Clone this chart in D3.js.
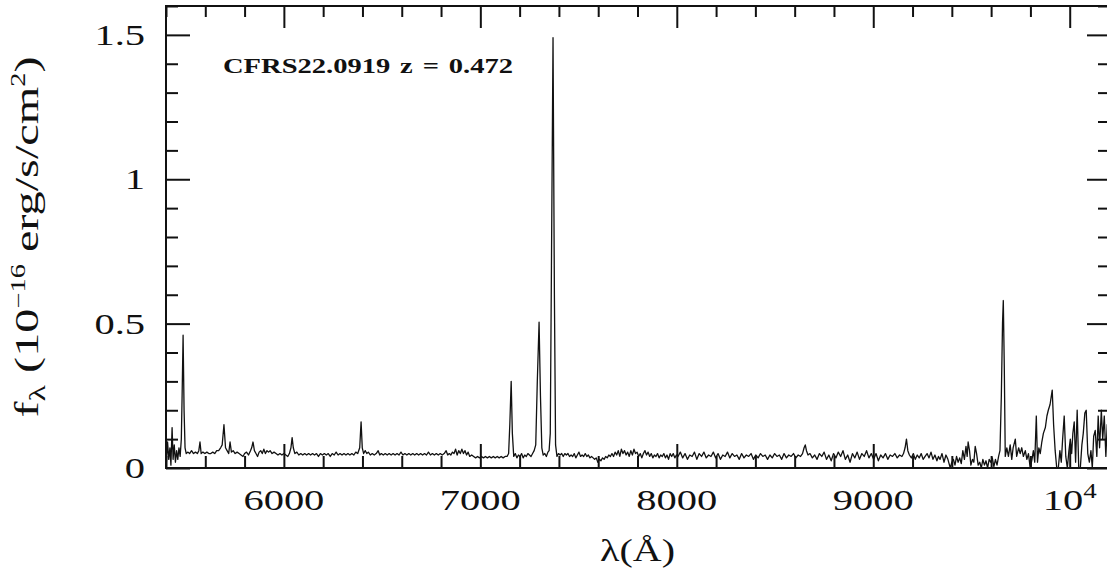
<!DOCTYPE html>
<html>
<head>
<meta charset="utf-8">
<script src="https://cdnjs.cloudflare.com/ajax/libs/d3/7.8.5/d3.min.js"></script>
<style>
html,body{margin:0;padding:0;background:#fff;}
svg text{font-family:"Liberation Serif","Times New Roman",serif;fill:#111;}
</style>
</head>
<body>
<svg id="chart" width="1107" height="571"></svg>
<script>
// ---- data ----
const wavelength = [
5402,5408,5414,5420,5425,5431,5436,5442,5448,5454,5460,5466,5472,5478,5482,5487,5492,5497,5503,5512,
5520,5530,5540,5550,5560,5567,5573,5579,5588,5598,5608,5618,5628,5638,5648,5658,5668,5678,5686,5695,
5703,5711,5719,5726,5733,5742,5752,5762,5772,5782,5792,5800,5810,5820,5830,5836,5843,5850,5858,5866,
5874,5882,5890,5898,5906,5914,5922,5930,5940,5950,5960,5970,5980,5990,6000,6010,6020,6028,6036,6042,
6048,6056,6066,6076,6086,6096,6106,6116,6126,6136,6146,6156,6166,6176,6186,6196,6206,6216,6226,6236,
6246,6256,6266,6276,6286,6296,6306,6316,6326,6336,6346,6356,6366,6376,6386,6393,6399,6406,6414,6422,
6430,6440,6450,6460,6470,6480,6488,6496,6506,6516,6526,6536,6546,6556,6566,6576,6586,6596,6606,6616,
6626,6636,6646,6656,6666,6676,6686,6696,6706,6716,6726,6736,6746,6756,6766,6776,6786,6796,6806,6816,
6826,6834,6842,6850,6858,6866,6874,6882,6890,6898,6906,6914,6922,6930,6938,6946,6956,6966,6976,6986,
6996,7006,7016,7026,7036,7046,7056,7066,7076,7086,7096,7106,7116,7126,7136,7144,7150,7157,7163,7170,
7178,7186,7194,7202,7210,7218,7226,7234,7242,7250,7258,7266,7274,7282,7290,7299,7306,7313,7320,7328,
7336,7344,7350,7356,7362,7370,7377,7383,7390,7398,7406,7414,7422,7430,7438,7446,7454,7462,7470,7478,
7486,7494,7502,7510,7518,7526,7534,7542,7550,7558,7566,7574,7582,7590,7598,7606,7614,7622,7630,7638,
7646,7654,7662,7670,7678,7686,7694,7702,7710,7718,7726,7734,7742,7750,7758,7766,7774,7782,7790,7798,
7806,7814,7822,7830,7838,7846,7854,7862,7870,7878,7886,7894,7902,7910,7918,7926,7934,7942,7950,7958,
7966,7974,7982,7990,7998,8006,8018,8030,8042,8054,8066,8078,8090,8102,8114,8126,8138,8150,8162,8174,
8186,8198,8210,8222,8234,8246,8258,8270,8282,8294,8306,8318,8330,8342,8354,8366,8378,8390,8402,8414,
8426,8438,8450,8462,8474,8486,8498,8510,8522,8534,8546,8558,8570,8582,8594,8606,8618,8630,8640,8648,
8654,8660,8668,8678,8690,8702,8714,8726,8738,8750,8762,8774,8786,8798,8810,8822,8834,8846,8858,8870,
8882,8894,8906,8918,8930,8942,8954,8966,8978,8990,9002,9014,9026,9038,9050,9062,9074,9086,9098,9110,
9122,9134,9146,9154,9162,9169,9176,9184,9194,9204,9214,9224,9234,9244,9254,9264,9274,9284,9294,9304,
9314,9324,9332,9340,9350,9360,9370,9380,9392,9400,9408,9416,9424,9432,9440,9448,9456,9464,9472,9478,
9483,9490,9497,9505,9512,9519,9526,9534,9542,9550,9558,9566,9574,9582,9590,9598,9606,9614,9622,9630,
9638,9645,9652,9658,9662,9667,9672,9680,9688,9697,9705,9712,9723,9730,9740,9748,9756,9764,9774,9782,
9790,9799,9808,9815,9822,9830,9836,9843,9850,9858,9866,9876,9884,9891,9900,9911,9918,9926,9934,9942,
9950,9957,9964,9972,9980,9988,9996,10003,10010,10016,10023,10030,10038,10046,10054,10062,10069,10077,10084,10092,
10100,10108,10115,10122,10130,10138,10145,10152,10161,10168,10176,10184,10191,10200
];
const flux = [
.02,.09,.03,.07,.01,.14,.03,.08,.02,.06,.03,.07,.04,.10,.25,.46,.20,.07,.05,.055,
.05,.06,.05,.055,.05,.06,.09,.05,.055,.05,.055,.05,.05,.055,.05,.06,.06,.07,.08,.15,
.07,.06,.05,.09,.055,.06,.05,.055,.05,.045,.04,.05,.055,.045,.06,.07,.09,.06,.05,.04,
.055,.06,.05,.065,.05,.06,.055,.06,.05,.055,.05,.045,.05,.045,.05,.045,.04,.05,.07,.105,
.07,.05,.055,.045,.05,.045,.05,.045,.05,.045,.05,.045,.05,.04,.05,.045,.05,.045,.05,.04,
.05,.045,.055,.045,.05,.045,.05,.045,.05,.045,.05,.045,.055,.05,.07,.16,.07,.05,.06,.05,
.055,.045,.05,.045,.05,.06,.045,.05,.045,.05,.045,.05,.045,.05,.045,.05,.045,.055,.045,.05,
.045,.05,.045,.05,.045,.05,.045,.05,.045,.05,.045,.055,.045,.05,.045,.05,.045,.05,.045,.05,
.06,.045,.05,.045,.055,.05,.065,.045,.06,.05,.065,.05,.06,.045,.055,.04,.045,.04,.035,.04,
.035,.04,.035,.04,.035,.04,.035,.04,.035,.04,.035,.04,.035,.04,.04,.05,.15,.30,.12,.04,
.05,.035,.045,.04,.05,.035,.045,.04,.05,.045,.04,.05,.06,.08,.30,.505,.25,.07,.045,.05,
.04,.055,.06,.12,.70,1.49,.60,.08,.04,.05,.045,.05,.04,.05,.045,.05,.04,.045,.04,.05,
.035,.045,.055,.04,.045,.04,.05,.04,.045,.035,.04,.035,.03,.035,.02,.03,.025,.035,.03,.04,
.035,.045,.04,.05,.04,.055,.045,.06,.04,.065,.05,.06,.045,.055,.04,.06,.045,.065,.05,.055,
.04,.05,.035,.05,.06,.045,.055,.04,.05,.035,.045,.04,.05,.035,.045,.04,.05,.035,.045,.03,
.05,.04,.05,.035,.045,.04,.055,.035,.05,.03,.045,.04,.055,.03,.05,.04,.055,.035,.045,.04,
.055,.035,.05,.03,.045,.04,.055,.035,.05,.04,.045,.03,.05,.035,.045,.04,.05,.03,.045,.035,
.05,.04,.045,.03,.045,.035,.05,.04,.045,.03,.05,.035,.045,.04,.05,.035,.045,.04,.05,.07,
.08,.06,.045,.05,.035,.045,.03,.05,.04,.055,.03,.045,.025,.05,.035,.055,.04,.06,.03,.045,
.02,.05,.035,.055,.03,.05,.04,.06,.035,.05,.03,.05,.025,.045,.035,.05,.03,.045,.04,.05,
.035,.045,.04,.05,.07,.10,.06,.045,.035,.05,.03,.045,.035,.05,.03,.04,.05,.035,.055,.03,
.045,.025,.04,.03,.05,.02,.045,.03,.0,.02,.03,.01,.04,.02,.035,.015,.06,.03,.075,.04,
.09,.06,.01,.03,.02,.075,.05,.01,.02,.0,.03,.01,.025,.0,.03,.02,.035,.005,.03,.01,
.04,.06,.25,.50,.58,.35,.04,.07,.04,.08,.03,.07,.10,.04,.07,.05,.07,.04,.06,.03,
.05,.0,.03,.06,.02,.18,.02,.07,.05,.09,.12,.14,.18,.20,.22,.27,.15,.06,.0,.0,
.06,.02,.10,.18,.04,.0,.06,.10,.05,.12,.16,.02,.20,.0,.0,.08,.12,.19,.20,.05,
.02,.06,.0,.11,.13,.04,.18,.07,.20,.10,.18,.04,.15,.10
];
const xMajorTicks = [6000, 7000, 8000, 9000, 10000];
const xTickLabels = ["6000", "7000", "8000", "9000", "10"];
const yMajorTicks = [0, 0.5, 1, 1.5];
const yTickLabels = ["0", "0.5", "1", "1.5"];
const annotation = "CFRS22.0919 z = 0.472";

// ---- layout ----
const svg = d3.select("#chart");
const L = 166, R = 1109, T = 6, B = 468;
const x = d3.scaleLinear().domain([5400, 10200]).range([L, R]);
const y = d3.scaleLinear().domain([0, 1.6]).range([B, T]);
const xMinor = d3.range(5400, 10201, 200).filter(v => v % 1000 !== 0);
const yMinor = d3.range(0, 17).map(i => i / 10).filter(v => Math.abs(v * 2 - Math.round(v * 2)) > 1e-6);

svg.append("defs").append("clipPath").attr("id", "clip")
  .append("rect").attr("x", L).attr("y", T).attr("width", R - L).attr("height", B - T);

// spectrum
const pts = wavelength.map((w, i) => [w, flux[i]]);
svg.append("path")
  .datum(pts)
  .attr("clip-path", "url(#clip)")
  .attr("fill", "none")
  .attr("stroke", "#111")
  .attr("stroke-width", 1.3)
  .attr("stroke-linejoin", "round")
  .attr("d", d3.line().x(d => x(d[0])).y(d => y(d[1])));

// axes with inward ticks
function addAxis(gen, tf) {
  const g = svg.append("g").attr("transform", tf).call(gen);
  g.select(".domain").remove();
  g.selectAll("line").attr("stroke", "#111").attr("stroke-width", 2);
  g.selectAll("text").remove();
}
addAxis(d3.axisBottom(x).tickValues(xMajorTicks).tickSize(-24).tickFormat(""), `translate(0,${B})`);
addAxis(d3.axisBottom(x).tickValues(xMinor).tickSize(-12).tickFormat(""), `translate(0,${B})`);
addAxis(d3.axisTop(x).tickValues(xMajorTicks).tickSize(-22).tickFormat(""), `translate(0,${T})`);
addAxis(d3.axisTop(x).tickValues(xMinor).tickSize(-11).tickFormat(""), `translate(0,${T})`);
addAxis(d3.axisLeft(y).tickValues(yMajorTicks).tickSize(-24).tickFormat(""), `translate(${L},0)`);
addAxis(d3.axisLeft(y).tickValues(yMinor).tickSize(-12).tickFormat(""), `translate(${L},0)`);
addAxis(d3.axisRight(y).tickValues(yMajorTicks).tickSize(-22).tickFormat(""), `translate(${R},0)`);
addAxis(d3.axisRight(y).tickValues(yMinor).tickSize(-11).tickFormat(""), `translate(${R},0)`);

// frame
svg.append("rect").attr("x", L).attr("y", T).attr("width", R - L).attr("height", B - T)
  .attr("fill", "none").attr("stroke", "#111").attr("stroke-width", 2);

// y tick labels
yMajorTicks.forEach((v, i) => {
  svg.append("text")
    .attr("transform", `translate(145,${y(v) + 10}) scale(1.35,1)`)
    .attr("text-anchor", "end")
    .style("font-size", "30px")
    .text(yTickLabels[i]);
});

// x tick labels
xMajorTicks.forEach((v, i) => {
  const t = svg.append("text")
    .attr("transform", `translate(${x(v)},510) scale(1.35,1)`)
    .attr("text-anchor", "middle")
    .style("font-size", "30px");
  t.append("tspan").text(xTickLabels[i]);
  if (v === 10000) {
    t.append("tspan").attr("dy", -12).style("font-size", "20px").text("4");
  }
});

// x axis title
svg.append("text")
  .attr("transform", `translate(${(L + R) / 2},561) scale(1.25,1)`)
  .attr("text-anchor", "middle")
  .style("font-size", "32px")
  .text("λ(Å)");

// y axis title
const yt = svg.append("text")
  .attr("transform", `translate(38,237) rotate(-90) scale(1.42,1)`)
  .attr("text-anchor", "middle")
  .style("font-size", "34px");
yt.append("tspan").text("f");
yt.append("tspan").attr("dy", 7).style("font-size", "24px").text("λ");
yt.append("tspan").attr("dy", -7).text(" (10");
yt.append("tspan").attr("dy", -13).style("font-size", "20px").text("−16");
yt.append("tspan").attr("dy", 13).text(" erg/s/cm");
yt.append("tspan").attr("dy", -13).style("font-size", "20px").text("2");
yt.append("tspan").attr("dy", 13).text(")");

// annotation
svg.append("text")
  .attr("transform", `translate(223,73) scale(1.36,1)`)
  .style("font-size", "21px")
  .style("font-weight", "bold")
  .style("word-spacing", "2px")
  .text(annotation);
</script>
</body>
</html>
